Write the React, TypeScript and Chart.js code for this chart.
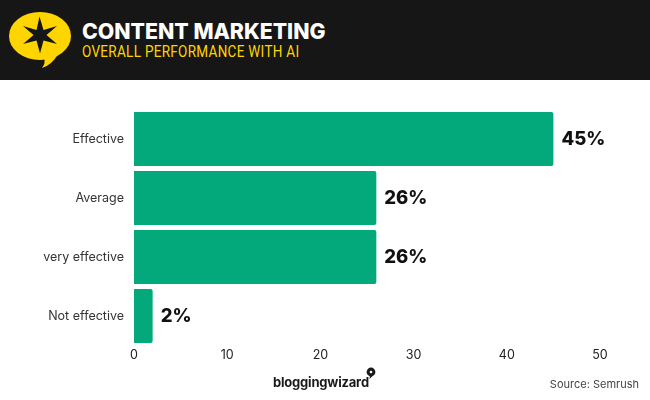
import React, { useEffect, useRef } from "react";
import { Chart, registerables } from "chart.js";

Chart.register(...registerables);

const categories = ["Effective", "Average", "very effective", "Not effective"];
const values = [45, 26, 26, 2];
const tickValues = [0, 10, 20, 30, 40, 50];
const titleText = "CONTENT MARKETING";
const subtitleText = "OVERALL PERFORMANCE WITH AI";
const brandText = "bloggingwizard";
const sourceText = "Source: Semrush";

const BAR = "#03A97B";
const UI_FONT = "Inter, 'Open Sans', sans-serif";

const valueLabels = {
  id: "valueLabels",
  afterDatasetsDraw(chart: any) {
    const { ctx } = chart;
    const meta = chart.getDatasetMeta(0);
    ctx.save();
    ctx.font = `800 18.5px ${UI_FONT}`;
    ctx.fillStyle = "#111";
    ctx.textAlign = "left";
    ctx.textBaseline = "middle";
    meta.data.forEach((bar: any, i: number) => {
      ctx.fillText(`${values[i]}%`, bar.x + 8, bar.y);
    });
    ctx.restore();
  },
};

export default function App() {
  const ref = useRef<HTMLCanvasElement>(null);
  useEffect(() => {
    document.body.style.margin = "0";
    const chart = new Chart(ref.current!, {
      type: "bar",
      data: {
        labels: categories,
        datasets: [{ data: values, backgroundColor: BAR, barPercentage: 0.915, categoryPercentage: 1, borderRadius: 2 }],
      },
      plugins: [valueLabels],
      options: {
        indexAxis: "y",
        animation: false,
        responsive: false,
        layout: { padding: { top: 109.5, bottom: 30.5, left: 0, right: 50 } },
        plugins: { legend: { display: false }, tooltip: { enabled: false } },
        scales: {
          x: {
            min: 0,
            max: 50,
            afterBuildTicks: (s: any) => { s.ticks = tickValues.map((value) => ({ value })); },
            grid: { display: false, drawTicks: false },
            border: { display: false },
            afterFit: (s: any) => { s.height = 24; },
            ticks: { color: "#222", font: { family: UI_FONT, size: 12.5 }, padding: 2, maxRotation: 0 },
          },
          y: {
            grid: { display: false, drawTicks: false },
            border: { display: false },
            afterFit: (s: any) => { s.width = 134; },
            ticks: { color: "#333", font: { family: UI_FONT, size: 12.5 }, padding: 10 },
          },
        },
      } as any,
    });
    return () => chart.destroy();
  }, []);

  return (
    <div style={{ position: "relative", width: 650, height: 400, background: "#fff", overflow: "hidden" }}>
      <canvas ref={ref} width={650} height={400} style={{ position: "absolute", left: 0, top: 0, display: "block" }} />
      <div style={{ position: "absolute", left: 0, top: 0, width: 650, height: 80, background: "#161616" }}>
        <svg width="80" height="80" style={{ position: "absolute", left: 0, top: 0 }}>
          <ellipse cx="40" cy="36" rx="31" ry="24" fill="#FFD500" />
          <path d="M44 56 Q46 63 42 68 Q52 65 58 54 Z" fill="#FFD500" />
          <path d="M39.5 16.5 L43.5 30 L57 26 L46.5 35 L57 44 L43.5 40.5 L40 53.5 L36.5 40.5 L23 44 L33.5 35 L23 26 L36.5 30 Z" fill="#161616" />
        </svg>
        <div style={{ position: "absolute", left: 82, top: 18, fontFamily: UI_FONT, fontWeight: 800, fontSize: 21.3, lineHeight: "26px", color: "#fff", whiteSpace: "nowrap" }}>{titleText}</div>
        <div style={{ position: "absolute", left: 82, top: 42, fontFamily: "Roboto, sans-serif", fontWeight: 400, fontSize: 16, lineHeight: "20px", letterSpacing: 0.35, color: "#FFD500", whiteSpace: "nowrap", transform: "scaleX(0.845)", transformOrigin: "left center" }}>{subtitleText}</div>
      </div>
      <div style={{ position: "absolute", left: 273, top: 373, fontFamily: UI_FONT, fontWeight: 700, fontSize: 13, lineHeight: "18px", letterSpacing: -0.2, color: "#1a1a1a", whiteSpace: "nowrap" }}>{brandText}</div>
      <svg width="12" height="14" style={{ position: "absolute", left: 365, top: 367 }}>
        <circle cx="6" cy="5" r="4.4" fill="#1a1a1a" />
        <path d="M5 8 L4.5 12 L8 8.5 Z" fill="#1a1a1a" />
        <circle cx="6" cy="5" r="1.3" fill="#fff" />
      </svg>
      <div style={{ position: "absolute", right: 11, top: 376, fontFamily: UI_FONT, fontSize: 11, lineHeight: "16px", color: "#444", whiteSpace: "nowrap" }}>{sourceText}</div>
    </div>
  );
}
